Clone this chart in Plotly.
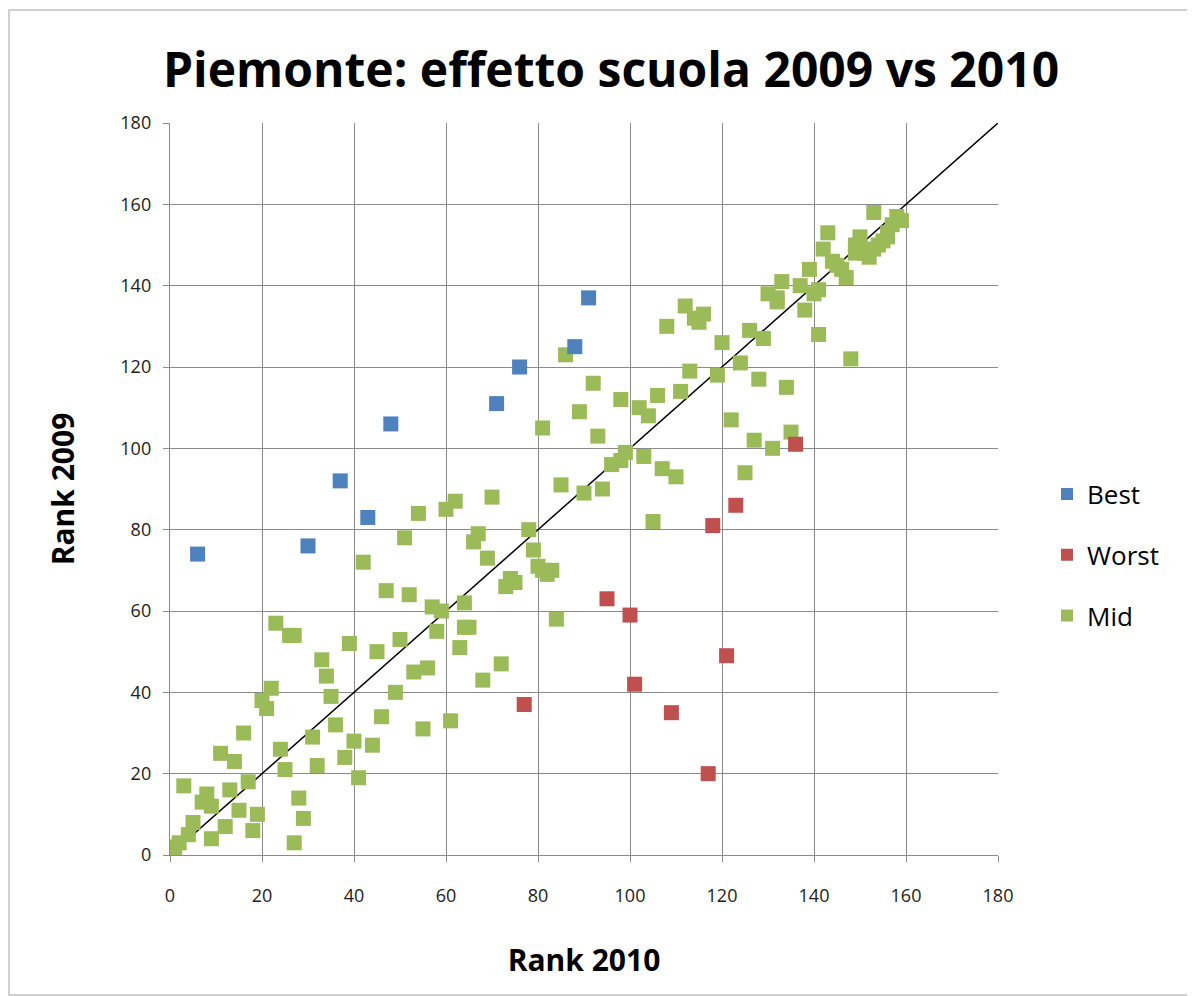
import plotly.graph_objects as go

TITLE = "Piemonte: effetto scuola 2009 vs 2010"
X_TITLE = "Rank 2010"
Y_TITLE = "Rank 2009"
TICKS = [0, 20, 40, 60, 80, 100, 120, 140, 160, 180]

best_x = [6, 30, 37, 43, 48, 71, 76, 88, 91]
best_y = [74, 76, 92, 83, 106, 111, 120, 125, 137]

worst_x = [77, 95, 100, 101, 109, 117, 118, 121, 123, 136]
worst_y = [37, 63, 59, 42, 35, 20, 81, 49, 86, 101]

mid_x = [1, 2, 1, 3, 4, 5, 7, 8, 9, 9, 11, 12, 13, 14, 15, 16, 17, 18, 19, 20,
         21, 22, 23, 24, 25, 26, 27, 27, 28, 29, 31, 32, 33, 34, 35, 36, 38, 39, 40, 41,
         42, 44, 45, 46, 47, 49, 50, 51, 52, 53, 54, 55, 56, 57, 58, 59, 60, 61, 62, 63,
         64, 64, 65, 66, 67, 68, 69, 70, 72, 73, 74, 75, 78, 79, 80, 81, 82, 83, 84, 85,
         86, 81, 89, 90, 92, 93, 94, 96, 98, 98, 99, 102, 103, 104, 105, 106, 107, 108, 110, 111,
         112, 113, 114, 115, 116, 119, 120, 122, 124, 125, 126, 127, 128, 129, 130, 131, 132, 132, 133, 134,
         135, 137, 138, 139, 140, 141, 141, 142, 143, 144, 145, 146, 147, 148, 149, 149, 150, 150, 151, 152,
         153, 153, 154, 155, 156, 156, 157, 158, 159]
mid_y = [1, 3, 2, 17, 5, 8, 13, 15, 12, 4, 25, 7, 16, 23, 11, 30, 18, 6, 10, 38,
         36, 41, 57, 26, 21, 54, 3, 54, 14, 9, 29, 22, 48, 44, 39, 32, 24, 52, 28, 19,
         72, 27, 50, 34, 65, 40, 53, 78, 64, 45, 84, 31, 46, 61, 55, 60, 85, 33, 87, 51,
         62, 56, 56, 77, 79, 43, 73, 88, 47, 66, 68, 67, 80, 75, 71, 105, 69, 70, 58, 91,
         123, 70, 109, 89, 116, 103, 90, 96, 97, 112, 99, 110, 98, 108, 82, 113, 95, 130, 93, 114,
         135, 119, 132, 131, 133, 118, 126, 107, 121, 94, 129, 102, 117, 127, 138, 100, 136, 137, 141, 115,
         104, 140, 134, 144, 138, 128, 139, 149, 153, 146, 145, 144, 142, 122, 150, 148, 152, 149, 148, 147,
         158, 149, 150, 151, 152, 153, 155, 157, 156]

DIAG = [0, 180]

BLUE = "#4F81BD"
RED = "#C0504D"
GREEN = "#9BBB59"
FONT = "Open Sans"

# figure pixel geometry (page has an 8px body margin)
W, H = 1187, 988
L, R, T, B = 162, 197, 115, 141
PW, PH = W - L - R, H - T - B

fig = go.Figure()

fig.add_trace(go.Scatter(x=DIAG, y=DIAG, mode="lines",
                         line=dict(color="black", width=1.5),
                         showlegend=False, hoverinfo="skip"))

for name, xs, ys, col in [("Mid", mid_x, mid_y, GREEN),
                          ("Worst", worst_x, worst_y, RED),
                          ("Best", best_x, best_y, BLUE)]:
    fig.add_trace(go.Scatter(x=xs, y=ys, mode="markers", name=name,
                             legendgroup=name,
                             marker=dict(symbol="square", size=15, color=col,
                                         line=dict(width=0))))

fig.data[3].legendrank = 1
fig.data[2].legendrank = 2
fig.data[1].legendrank = 3

axis_common = dict(range=[0, 180], tickvals=TICKS, showgrid=True,
                   gridcolor="#8a8a8a", gridwidth=1.4,
                   showline=True, linecolor="#8a8a8a", linewidth=1.4,
                   ticks="outside", ticklen=6, tickcolor="#8a8a8a",
                   tickfont=dict(family=FONT, size=18, color="#222"),
                   zeroline=False, mirror=False, fixedrange=True)

fig.update_layout(
    width=W, height=H,
    paper_bgcolor="white", plot_bgcolor="white",
    margin=dict(l=L, r=R, t=T, b=B),
    title=dict(text="<b>" + TITLE + "</b>", x=(603 - L) / PW, xref="paper",
               xanchor="center",
               y=1 - 62 / H, yanchor="middle",
               font=dict(family=FONT, size=48, color="black")),
    xaxis=dict(**axis_common,
               title=dict(text="<b>" + X_TITLE + "</b>", standoff=44,
                          font=dict(family=FONT, size=30, color="black"))),
    yaxis=dict(**axis_common,
               title=dict(text="<b>" + Y_TITLE + "</b>", standoff=36,
                          font=dict(family=FONT, size=30, color="black"))),
    legend=dict(x=(1039 - L) / PW, xanchor="left", y=(847 - 547) / PH, yanchor="middle",
                traceorder="grouped", tracegroupgap=24,
                font=dict(family=FONT, size=26, color="black"),
                itemsizing="constant", bgcolor="rgba(0,0,0,0)"),
    shapes=[dict(type="rect", xref="paper", yref="paper",
                 x0=(1 - L) / PW, x1=(1185 - L) / PW,
                 y0=(H - T - B - (987 - T)) / PH, y1=(H - B - 2) / PH,
                 line=dict(color="#d0d0d0", width=2), layer="below")],
)
fig.update_xaxes(ticklabelstandoff=18)
fig.update_yaxes(ticklabelstandoff=8)

fig.write_html("out.html")
